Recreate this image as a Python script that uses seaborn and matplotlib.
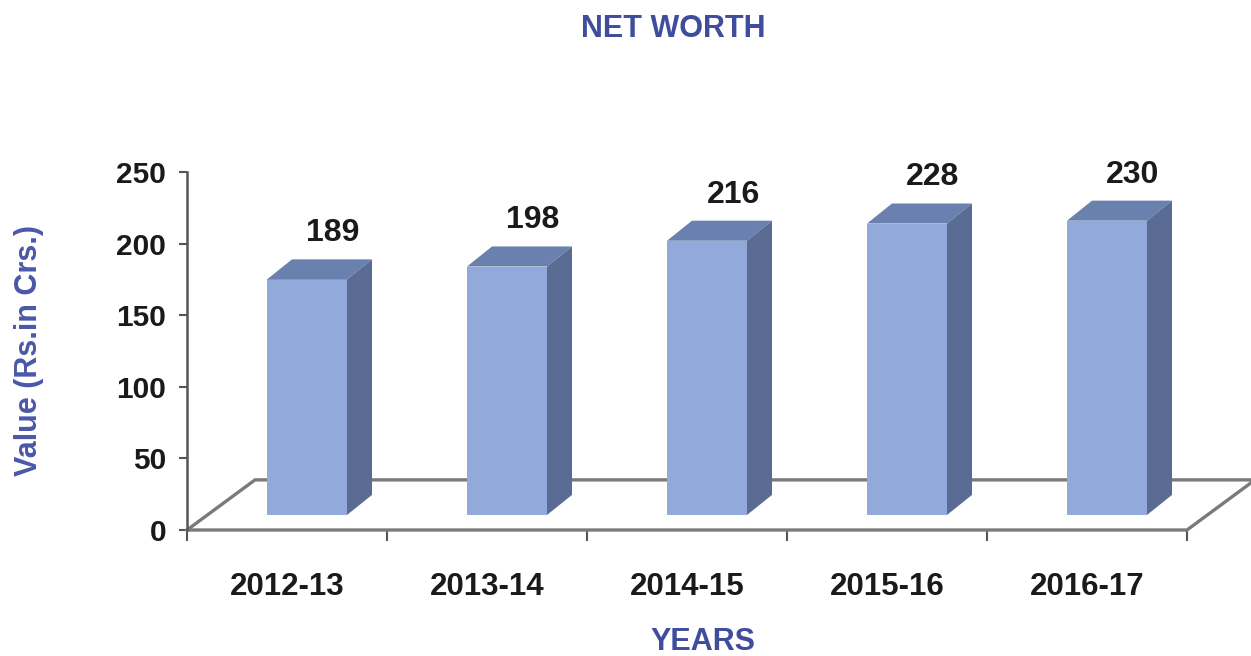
import numpy as np
import pandas as pd
import seaborn as sns
import matplotlib.pyplot as plt
from matplotlib.patches import Polygon
from matplotlib.ticker import FixedLocator

# chart data
years = ['2012-13', '2013-14', '2014-15', '2015-16', '2016-17']
net_worth = [189, 198, 216, 228, 230]
y_ticks = [0, 50, 100, 150, 200, 250]

df = pd.DataFrame({'year': years, 'value': net_worth})

# colours
front_col = '#91AADB'
top_col = '#6A80AE'
side_col = '#5A6C93'
text_blue = '#3F4D9C'
floor_col = '#7A7A7A'

sns.set_style('white')
plt.rcParams['font.family'] = ['Liberation Sans', 'DejaVu Sans']
plt.rcParams['font.weight'] = 'bold'

fig = plt.figure(figsize=(12.51, 6.56), dpi=100)
ax = fig.add_axes([187 / 1251, 1 - 530 / 656, 1000 / 1251, 358 / 656])

sns.barplot(data=df, x='year', y='value', width=0.4, color=front_col,
            saturation=1, linewidth=0, ax=ax, zorder=3)

ax.set_xlim(-0.5, 4.5)
ax.set_ylim(0, 250)

# fake 3d: floor depth, bar position inside floor, bar depth
floor_dx, floor_dy = 0.34, 35
pos_dx, pos_dy = 0.10, 10.5
bar_dx, bar_dy = 0.125, 14

# floor outline
fx0, fx1 = ax.get_xlim()
ax.plot([fx0, fx0 + floor_dx, fx1 + floor_dx, fx1, fx0],
        [0, floor_dy, floor_dy, 0, 0], color=floor_col, lw=2.4,
        clip_on=False, zorder=1, solid_joinstyle='miter')

for p, v in zip(ax.patches, net_worth):
    x0 = p.get_x() + pos_dx
    w = p.get_width()
    top = v - bar_dy
    p.set_x(x0)
    p.set_y(pos_dy)
    p.set_height(top - pos_dy)
    p.set_clip_on(False)
    ax.add_patch(Polygon([(x0, top), (x0 + w, top), (x0 + w + bar_dx, v),
                          (x0 + bar_dx, v)], closed=True, fc=top_col,
                         ec='none', zorder=3, clip_on=False))
    ax.add_patch(Polygon([(x0 + w, pos_dy), (x0 + w + bar_dx, pos_dy + bar_dy),
                          (x0 + w + bar_dx, v), (x0 + w, top)], closed=True,
                         fc=side_col, ec='none', zorder=3, clip_on=False))
    ax.annotate(str(v), (x0 + w / 2 + 0.13, v), xytext=(0, 8),
                textcoords='offset points', ha='center', va='bottom',
                fontsize=23, fontweight='bold', color='#1a1a1a')

# axes styling
for s in ['top', 'right', 'bottom']:
    ax.spines[s].set_visible(False)
ax.spines['left'].set_color('#555555')
ax.spines['left'].set_linewidth(1.8)
ax.set_yticks(y_ticks)
ax.tick_params(axis='y', length=6, width=1.5, color='#555555', pad=9,
               labelsize=21.5, labelcolor='#1a1a1a', left=True)
ax.set_xticks(range(len(years)))
ax.set_xticklabels(years)
ax.xaxis.set_minor_locator(FixedLocator(np.arange(-0.5, len(years), 1.0)))
ax.tick_params(axis='x', which='major', length=0, pad=30, labelsize=22.5,
               labelcolor='#1a1a1a')
ax.tick_params(axis='x', which='minor', length=8, width=1.5,
               color='#555555', bottom=True)
for lab in ax.get_xticklabels() + ax.get_yticklabels():
    lab.set_fontweight('bold')

ax.set_xlabel('YEARS', fontsize=22, fontweight='bold', color=text_blue)
ax.xaxis.set_label_coords(0.516, -0.27)
ax.set_ylabel('Value (Rs.in Crs.)', fontsize=22, fontweight='bold',
              color='#4A58A8')
ax.yaxis.set_label_coords(-0.143, 0.5)

fig.text(673 / 1251, 1 - 29 / 656, 'NET WORTH', ha='center', va='center',
         fontsize=22, fontweight='bold', color=text_blue)

fig.savefig('out.png', dpi=100)
